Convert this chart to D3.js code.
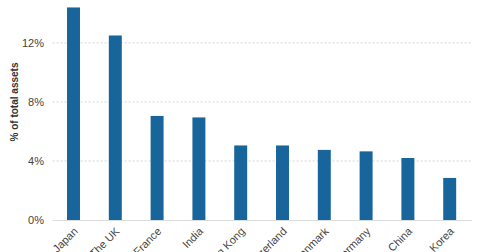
<!DOCTYPE html>
<html><head><meta charset="utf-8">
<script src="https://cdn.jsdelivr.net/npm/d3@7"></script>
<style>body{margin:0;background:#fff}svg{display:block}</style>
</head><body><svg id="c" width="480" height="252"></svg>
<script>
const categories = ["Japan","The UK","France","India","Hong Kong","Switzerland","Denmark","Germany","China","Korea"];
const values = [14.4, 12.5, 7.05, 6.95, 5.05, 5.05, 4.75, 4.65, 4.2, 2.85];
const yTicks = [0, 4, 8, 12];

const svg = d3.select("#c");
const m = {l:52.6, r:470.6, t:0, b:220};
const x = d3.scaleBand().domain(categories).range([m.l, m.r]).paddingInner(0.69).paddingOuter(0.345);
const y = d3.scaleLinear().domain([0, 14.9]).range([m.b, m.b - 14.9*14.76]);

// gridlines
svg.append("g").selectAll("line").data(yTicks.filter(d=>d>0)).join("line")
  .attr("x1", m.l).attr("x2", 472).attr("y1", d=>y(d)).attr("y2", d=>y(d))
  .attr("stroke", "#d6d6d6").attr("stroke-width", 1).attr("stroke-dasharray", "2,2");
svg.append("line").attr("x1", m.l).attr("x2", 472).attr("y1", y(0)+0.5).attr("y2", y(0)+0.5)
  .attr("stroke", "#dcdcdc").attr("stroke-width", 1);

// y axis
const ya = svg.append("g").attr("transform", `translate(44,0)`)
  .call(d3.axisLeft(y).tickValues(yTicks).tickSize(0).tickPadding(0).tickFormat(d=>d+"%"));
ya.select(".domain").remove();
ya.selectAll("text").attr("font-family","Liberation Sans, Arial, sans-serif").attr("font-size","11px").attr("fill","#444");

// bars
svg.append("g").selectAll("rect").data(values).join("rect")
  .attr("x", (d,i)=>x(categories[i])).attr("width", x.bandwidth())
  .attr("y", d=>y(d)).attr("height", d=>y(0)-y(d))
  .attr("fill", "#17659a");

// x axis labels
const xa = svg.append("g").attr("transform", `translate(0,${m.b})`)
  .call(d3.axisBottom(x).tickSize(0).tickPadding(0));
xa.select(".domain").remove();
xa.selectAll("text")
  .attr("font-family","Liberation Sans, Arial, sans-serif").attr("font-size","11px").attr("fill","#444")
  .attr("text-anchor","end").attr("dy", null).attr("y", 0)
  .attr("transform", "translate(5,12) rotate(-45)");

// y label
svg.append("text").attr("transform","translate(18,102) rotate(-90)")
  .attr("text-anchor","middle").attr("font-family","Liberation Sans, Arial, sans-serif")
  .attr("font-size","10px").attr("font-weight","bold").attr("fill","#333")
  .text("% of total assets");
</script></body></html>
